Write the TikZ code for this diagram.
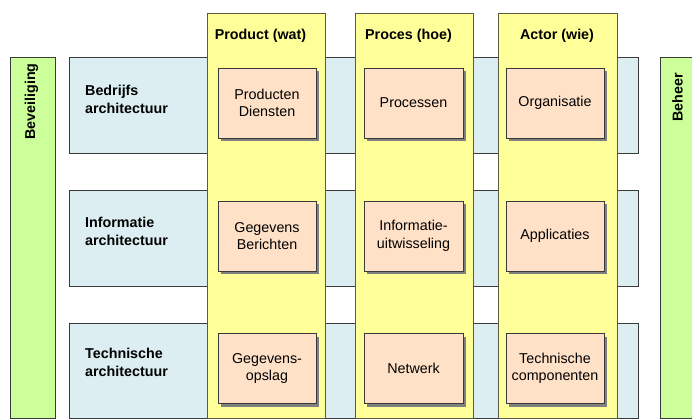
\documentclass[tikz,border=0pt]{standalone}
\usepackage{fontspec}
\setmainfont{Liberation Sans}
\usetikzlibrary{shadows}
\definecolor{sidegreen}{HTML}{CCFF99}
\definecolor{rowblue}{HTML}{DCEEF2}
\definecolor{colyellow}{HTML}{FFFF99}
\definecolor{cellorange}{HTML}{FFE1C8}
\definecolor{edgegray}{HTML}{3A3A3A}
\definecolor{coledge}{HTML}{5A5A40}
\definecolor{shadowgray}{HTML}{808080}
\begin{document}
\begin{tikzpicture}[x=1pt,y=-1pt,
  sidebar/.style={draw=edgegray, line width=0.9pt, fill=sidegreen},
  rowband/.style={draw=edgegray, line width=0.9pt, fill=rowblue},
  colband/.style={draw=coledge, line width=0.9pt, fill=colyellow},
  cell/.style={draw=edgegray, line width=0.9pt, fill=cellorange,
    minimum width=98pt, minimum height=70pt, inner sep=0pt, align=center,
    font=\fontsize{14.3}{17.5}\selectfont,
    drop shadow={shadow xshift=3.3pt, shadow yshift=-3.3pt, fill=shadowgray, opacity=1}},
  head/.style={anchor=base, inner sep=0pt, font=\fontsize{14.3}{17.5}\selectfont\bfseries},
  rowlabel/.style={anchor=north west, inner sep=0pt, align=left, font=\fontsize{14.3}{18}\selectfont\bfseries},
  sidelabel/.style={anchor=base, rotate=90, inner sep=0pt, font=\fontsize{14.3}{17}\selectfont\bfseries}]
\useasboundingbox (0,0) rectangle (692,419);
\clip (0,0) rectangle (692,419);

% side bars
\path[sidebar] (10,57) rectangle (55,418);
\path[sidebar] (660,57) rectangle (705,418);
\node[sidelabel] (beveiliging) at (35,101.5) {Beveiliging};
\node[sidelabel] (beheer) at (682.7,97.5) {Beheer};

% rows
\path[rowband] (69,57) rectangle (638,153);
\path[rowband] (69,190) rectangle (638,286);
\path[rowband] (69,323) rectangle (638,418);

% columns
\path[colband] (207,13) rectangle (325,418);
\path[colband] (355,13) rectangle (473,418);
\path[colband] (498,13) rectangle (617,418);

% headers
\node[head] (hprod) at (260.5,40) {Product (wat)};
\node[head] (hproc) at (408.5,40) {Proces (hoe)};
\node[head] (hact) at (557,40) {Actor (wie)};

% row labels
\node[rowlabel] (r1) at (85,84.6) {Bedrijfs\\architectuur};
\node[rowlabel] (r2) at (85,216.6) {Informatie\\architectuur};
\node[rowlabel] (r3) at (85,347.6) {Technische\\architectuur};

% cells
\node[cell] (c11) at (267,103) {Producten\\Diensten};
\node[cell, minimum width=99pt] (c12) at (413.5,103) {Processen};
\node[cell] (c13) at (555,103) {Organisatie};
\node[cell] (c21) at (267,236) {Gegevens\\Berichten};
\node[cell, minimum width=99pt] (c22) at (413.5,236) {Informatie-\\uitwisseling};
\node[cell] (c23) at (555,236) {Applicaties};
\node[cell] (c31) at (267,368.5) {Gegevens-\\opslag};
\node[cell, minimum width=99pt] (c32) at (413.5,368.5) {Netwerk};
\node[cell] (c33) at (555,368.5) {Technische\\componenten};
\end{tikzpicture}
\end{document}
